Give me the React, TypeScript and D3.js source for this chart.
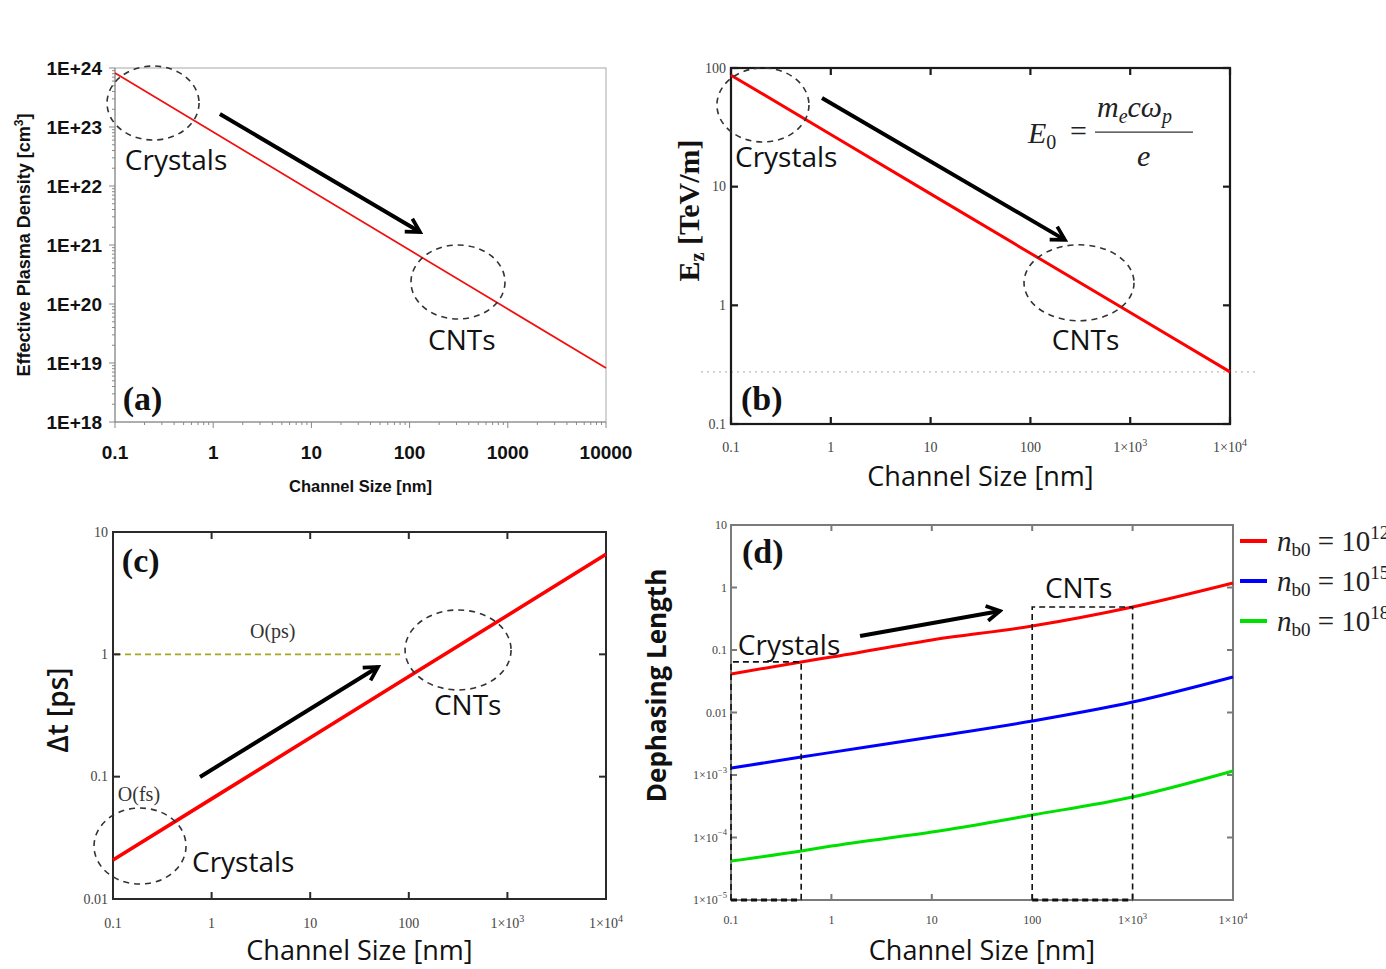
import React from 'react'
import * as d3 from 'd3'

// values
const channelSizes = [0.1, 1, 10, 100, 1000, 10000]
const plasmaDensity = [8.2e23, 8.2e22, 8.2e21, 8.2e20, 8.2e19, 8.2e18]
const fieldEz = [87, 27.5, 8.7, 2.75, 0.87, 0.275]
const deltaT = [0.0208, 0.0658, 0.208, 0.658, 2.08, 6.58]

const dephSizes = [0.1, 0.5, 1, 10, 100, 1000, 10000]
const deph12 = [0.0413, 0.0645, 0.077, 0.145, 0.242, 0.488, 1.18]
const deph15 = [0.00129, 0.00194, 0.0023, 0.00405, 0.0073, 0.0147, 0.037]
const deph18 = [4.2e-5, 6.1e-5, 7.3e-5, 1.22e-4, 2.29e-4, 4.45e-4, 1.16e-3]
const dephSeries = [deph12, deph15, deph18]
const densityExponents = ['12', '15', '18']
const seriesColors = ['#ff0000', '#0000ff', '#00e000']

// tick values and labels
const decadesA = [1e18, 1e19, 1e20, 1e21, 1e22, 1e23, 1e24]
const yLabelsA = ['1E+18', '1E+19', '1E+20', '1E+21', '1E+22', '1E+23', '1E+24']
const xLabelsA = ['0.1', '1', '10', '100', '1000', '10000']
const xLabelsMath = ['0.1', '1', '10', '100', '1×10^3', '1×10^4']
const decadesB = [0.1, 1, 10, 100]
const yLabelsB = ['0.1', '1', '10', '100']
const decadesC = [0.01, 0.1, 1, 10]
const yLabelsC = ['0.01', '0.1', '1', '10']
const decadesD = [1e-5, 1e-4, 1e-3, 0.01, 0.1, 1, 10]
const yLabelsD = ['1×10^−5', '1×10^−4', '1×10^−3', '0.01', '0.1', '1', '10']

const SANS = '"Open Sans", "Noto Sans", sans-serif'
const ARIAL = '"Liberation Sans", Arial, sans-serif'
const SERIF = '"Liberation Serif", "Times New Roman", serif'

const minorTicks = (lo: number, hi: number) => {
  const out: number[] = []
  for (let e = Math.round(Math.log10(lo)); e < Math.round(Math.log10(hi)); e++)
    for (let k = 2; k < 10; k++) out.push(k * Math.pow(10, e))
  return out
}

// "1×10^3" -> 1×10 with superscript 3
const supLabel = (s: string, fs: number) => {
  const [base, sup] = s.split('^')
  if (sup === undefined) return base
  return (
    <>
      {base}
      <tspan dy={-fs * 0.45} fontSize={fs * 0.72}>{sup}</tspan>
    </>
  )
}

const Ring = ({ cx, cy, rx, ry }: any) => (
  <ellipse cx={cx} cy={cy} rx={rx} ry={ry} fill="none" stroke="#333" strokeWidth={1.6} strokeDasharray="6 5" />
)

const Arrow = ({ x1, y1, x2, y2 }: any) => (
  <line x1={x1} y1={y1} x2={x2} y2={y2} stroke="#000" strokeWidth={4} markerEnd="url(#head)" />
)

const Note = ({ x, y, children, size = 28 }: any) => (
  <text x={x} y={y} fontFamily={SANS} fontWeight={500} fontSize={size} fill="#111">{children}</text>
)

const PanelTag = ({ x, y, children }: any) => (
  <text x={x} y={y} fontFamily={SERIF} fontWeight="bold" fontSize={34} fill="#111">{children}</text>
)

const ChannelTitle = ({ x, y }: any) => (
  <text x={x} y={y} textAnchor="middle" fontFamily={SANS} fontWeight={500} fontSize={27} fill="#111">Channel Size [nm]</text>
)

// boxed frame with inward ticks on all four sides
function BoxFrame({ x, y, xVals, yVals, stroke, width, len = 7 }: any) {
  const [x0, x1] = x.range()
  const [y0, y1] = y.range()
  return (
    <g stroke={stroke} strokeWidth={width} fill="none">
      <rect x={x0} y={y1} width={x1 - x0} height={y0 - y1} />
      {xVals.map((v: number) => (
        <g key={'x' + v}>
          <line x1={x(v)} x2={x(v)} y1={y0} y2={y0 - len} />
          <line x1={x(v)} x2={x(v)} y1={y1} y2={y1 + len} />
        </g>
      ))}
      {yVals.map((v: number) => (
        <g key={'y' + v}>
          <line x1={x0} x2={x0 + len} y1={y(v)} y2={y(v)} />
          <line x1={x1} x2={x1 - len} y1={y(v)} y2={y(v)} />
        </g>
      ))}
    </g>
  )
}

function PanelA() {
  const x = d3.scaleLog().domain([0.1, 1e4]).range([115, 606])
  const y = d3.scaleLog().domain([1e18, 1e24]).range([422, 68])
  const [x0, x1] = x.range()
  const [y0, y1] = y.range()
  const path = d3.line<number>().x((_, i) => x(channelSizes[i])).y(d => y(d))(plasmaDensity)
  return (
    <g>
      <rect x={x0} y={y1} width={x1 - x0} height={y0 - y1} fill="none" stroke="#a8a8a8" />
      <g stroke="#888">
        <line x1={x0} x2={x0} y1={y0} y2={y1} />
        <line x1={x0} x2={x1} y1={y0} y2={y0} />
        {decadesA.map(v => <line key={v} x1={x0 - 6} x2={x0} y1={y(v)} y2={y(v)} />)}
        {minorTicks(1e18, 1e24).map(v => <line key={v} x1={x0 - 3} x2={x0} y1={y(v)} y2={y(v)} />)}
        {channelSizes.map(v => <line key={v} x1={x(v)} x2={x(v)} y1={y0} y2={y0 + 6} />)}
        {minorTicks(0.1, 1e4).map(v => <line key={v} x1={x(v)} x2={x(v)} y1={y0} y2={y0 + 3} />)}
      </g>
      <path d={path || ''} fill="none" stroke="#f01010" strokeWidth={1.7} />
      <g fontFamily={ARIAL} fontWeight="bold" fontSize={19} fill="#111">
        {decadesA.map((v, i) => (
          <text key={v} x={x0 - 13} y={y(v)} textAnchor="end" dominantBaseline="central">{yLabelsA[i]}</text>
        ))}
        {channelSizes.map((v, i) => (
          <text key={v} x={x(v)} y={y0 + 37} textAnchor="middle">{xLabelsA[i]}</text>
        ))}
      </g>
      <text x={(x0 + x1) / 2} y={492} textAnchor="middle" fontFamily={ARIAL} fontWeight="bold" fontSize={16.5} fill="#111">
        Channel Size [nm]
      </text>
      <text transform={`translate(30,${(y0 + y1) / 2}) rotate(-90)`} textAnchor="middle" fontFamily={ARIAL} fontWeight="bold" fontSize={18} fill="#111">
        Effective Plasma Density [cm<tspan dy={-7} fontSize={12}>3</tspan><tspan dy={7}>]</tspan>
      </text>
      <Ring cx={x(0.244)} cy={y(2.55e23)} rx={46} ry={37} />
      <Note x={x(0.126)} y={y(1.87e22)}>Crystals</Note>
      <Arrow x1={x(1.17)} y1={y(1.66e23)} x2={x(127.7)} y2={y(1.66e21)} />
      <Ring cx={x(311)} cy={y(2.36e20)} rx={47} ry={37} />
      <Note x={x(154)} y={y(1.66e19)}>CNTs</Note>
      <PanelTag x={x(0.12)} y={y(1.58e18)}>(a)</PanelTag>
    </g>
  )
}

function PanelB() {
  const x = d3.scaleLog().domain([0.1, 1e4]).range([731, 1230])
  const y = d3.scaleLog().domain([0.1, 100]).range([424, 68])
  const [x0, x1] = x.range()
  const [y0] = y.range()
  const path = d3.line<number>().x((_, i) => x(channelSizes[i])).y(d => y(d))(fieldEz)
  const lastValue = fieldEz[fieldEz.length - 1]
  const fx = x(94.6)
  const fy = y(28.3)
  return (
    <g>
      <line x1={x0 - 30} x2={x1 + 28} y1={y(lastValue)} y2={y(lastValue)} stroke="#bbb" strokeWidth={1.3} strokeDasharray="2 4" />
      <BoxFrame x={x} y={y} xVals={channelSizes} yVals={decadesB} stroke="#1a1a1a" width={2.2} />
      <path d={path || ''} fill="none" stroke="#ff0000" strokeWidth={3} />
      <g fontFamily={SERIF} fontSize={14} fill="#444">
        {decadesB.map((v, i) => (
          <text key={v} x={x0 - 5} y={y(v)} textAnchor="end" dominantBaseline="central">{yLabelsB[i]}</text>
        ))}
        {channelSizes.map((v, i) => (
          <text key={v} x={x(v)} y={y0 + 28} textAnchor="middle">{supLabel(xLabelsMath[i], 14)}</text>
        ))}
      </g>
      <ChannelTitle x={(x0 + x1) / 2} y={486} />
      <text transform={`translate(699,${y(6.3)}) rotate(-90)`} textAnchor="middle" fontFamily={SERIF} fontWeight="bold" fontSize={30} fill="#111">
        E<tspan dy={5} fontSize={20}>z</tspan><tspan dy={-5}> [TeV/m]</tspan>
      </text>
      <g fontFamily={SERIF} fontStyle="italic" fill="#222" fontSize={30}>
        <text x={fx} y={fy + 10}>E<tspan fontStyle="normal" fontSize={20} dy={6}>0</tspan></text>
        <text x={fx + 42} y={fy + 8} fontStyle="normal">=</text>
        <line x1={fx + 67} x2={fx + 165} y1={fy - 1} y2={fy - 1} stroke="#333" strokeWidth={1.2} />
        <text x={fx + 69} y={fy - 16}>m<tspan fontSize={20} dy={6}>e</tspan><tspan dy={-6}>cω</tspan><tspan fontSize={20} dy={6}>p</tspan></text>
        <text x={fx + 109} y={fy + 33}>e</text>
      </g>
      <Ring cx={x(0.209)} cy={y(48.8)} rx={46} ry={37} />
      <Note x={x(0.1097)} y={y(14.7)}>Crystals</Note>
      <Arrow x1={x(0.816)} y1={y(55.9)} x2={x(222)} y2={y(3.56)} />
      <Ring cx={x(307)} cy={y(1.55)} rx={55} ry={38} />
      <Note x={x(164)} y={y(0.42)}>CNTs</Note>
      <PanelTag x={x(0.126)} y={y(0.1315)}>(b)</PanelTag>
    </g>
  )
}

function PanelC() {
  const x = d3.scaleLog().domain([0.1, 1e4]).range([113, 606])
  const y = d3.scaleLog().domain([0.01, 10]).range([899, 532])
  const [x0, x1] = x.range()
  const [y0] = y.range()
  const path = d3.line<number>().x((_, i) => x(channelSizes[i])).y(d => y(d))(deltaT)
  return (
    <g>
      <line x1={x0 + 2} x2={x(81.5)} y1={y(1)} y2={y(1)} stroke="#a8a820" strokeWidth={1.6} strokeDasharray="6 4" />
      <BoxFrame x={x} y={y} xVals={channelSizes} yVals={decadesC} stroke="#2a2a2a" width={2} />
      <path d={path || ''} fill="none" stroke="#ff0000" strokeWidth={3.6} />
      <g fontFamily={SERIF} fontSize={14} fill="#444">
        {decadesC.map((v, i) => (
          <text key={v} x={x0 - 5} y={y(v)} textAnchor="end" dominantBaseline="central">{yLabelsC[i]}</text>
        ))}
        {channelSizes.map((v, i) => (
          <text key={v} x={x(v)} y={y0 + 29} textAnchor="middle">{supLabel(xLabelsMath[i], 14)}</text>
        ))}
      </g>
      <ChannelTitle x={(x0 + x1) / 2} y={960} />
      <text transform={`translate(68,${y(0.35)}) rotate(-90)`} textAnchor="middle" fontFamily={SANS} fontWeight={600} fontSize={28} fill="#111">
        Δt [ps]
      </text>
      <g fontFamily={SERIF} fontSize={20} fill="#333">
        <text x={x(2.45)} y={y(1.36)}>O(ps)</text>
        <text x={x(0.112)} y={y(0.0633)}>O(fs)</text>
      </g>
      <Ring cx={x(0.188)} cy={y(0.0271)} rx={46} ry={38} />
      <Note x={x(0.633)} y={y(0.01663)}>Crystals</Note>
      <Arrow x1={x(0.763)} y1={y(0.0995)} x2={x(48.7)} y2={y(0.789)} />
      <Ring cx={x(316)} cy={y(1.086)} rx={53} ry={40} />
      <Note x={x(180)} y={y(0.319)}>CNTs</Note>
      <PanelTag x={x(0.123)} y={y(4.72)}>(c)</PanelTag>
    </g>
  )
}

function PanelD() {
  const x = d3.scaleLog().domain([0.1, 1e4]).range([731, 1233])
  const y = d3.scaleLog().domain([1e-5, 10]).range([900, 525])
  const [x0, x1] = x.range()
  const [y0, y1] = y.range()
  const line = d3.line<number>().x((_, i) => x(dephSizes[i])).y(d => y(d)).curve(d3.curveMonotoneX)
  const boxes = [[0, 1], [4, 5]]
  return (
    <g>
      <BoxFrame x={x} y={y} xVals={channelSizes} yVals={decadesD} stroke="#7a7a7a" width={2} len={6} />
      {dephSeries.map((s, i) => (
        <path key={i} d={line(s) || ''} fill="none" stroke={seriesColors[i]} strokeWidth={3} />
      ))}
      {boxes.map(([a, b]) => (
        <g key={a} fill="none" stroke="#111" strokeDasharray="6 4">
          <path d={`M${x(dephSizes[a])},${y0}V${y(deph12[b])}H${x(dephSizes[b])}V${y0}`} strokeWidth={1.6} />
          <line x1={x(dephSizes[a])} x2={x(dephSizes[b])} y1={y0} y2={y0} strokeWidth={3} />
        </g>
      ))}
      <g fontFamily={SERIF} fontSize={12} fill="#444">
        {decadesD.map((v, i) => (
          <text key={v} x={x0 - 4} y={y(v)} textAnchor="end" dominantBaseline="central">{supLabel(yLabelsD[i], 12)}</text>
        ))}
        {channelSizes.map((v, i) => (
          <text key={v} x={x(v)} y={y0 + 24} textAnchor="middle">{supLabel(xLabelsMath[i], 12)}</text>
        ))}
      </g>
      <ChannelTitle x={(x0 + x1) / 2} y={960} />
      <text transform={`translate(666,${y(0.01) - 27}) rotate(-90)`} textAnchor="middle" fontFamily={SANS} fontWeight="bold" fontSize={26} fill="#111">
        Dephasing Length
      </text>
      <Note x={x(0.117)} y={y(0.083)}>Crystals</Note>
      <Note x={x(134)} y={y(0.679)}>CNTs</Note>
      <Arrow x1={x(1.93)} y1={y(0.1675)} x2={x(47.8)} y2={y(0.421)} />
      <PanelTag x={x(0.1287)} y={y(2.47)}>(d)</PanelTag>
      {densityExponents.map((e, i) => (
        <g key={e} transform={`translate(${x1 + 7},${y1 + 16 + i * 40})`}>
          <line x1={0} x2={27} y1={0} y2={0} stroke={seriesColors[i]} strokeWidth={4} />
          <text x={37} y={10} fontFamily={SERIF} fontSize={29} fill="#222">
            <tspan fontStyle="italic">n</tspan>
            <tspan fontSize={19} dy={5}>b0</tspan>
            <tspan dy={-5}> = 10</tspan>
            <tspan fontSize={19} dy={-12}>{e}</tspan>
          </text>
        </g>
      ))}
    </g>
  )
}

export default function App() {
  return (
    <svg width={1386} height={969} style={{ position: 'absolute', left: 0, top: 0, background: '#fff' }}>
      <defs>
        <marker id="head" viewBox="0 0 12 12" refX="10" refY="6" markerWidth="5" markerHeight="5" orient="auto" markerUnits="strokeWidth">
          <path d="M2,1.5 L10,6 L2,10.5" fill="none" stroke="#000" strokeWidth={2.2} />
        </marker>
      </defs>
      <PanelA />
      <PanelB />
      <PanelC />
      <PanelD />
    </svg>
  )
}
